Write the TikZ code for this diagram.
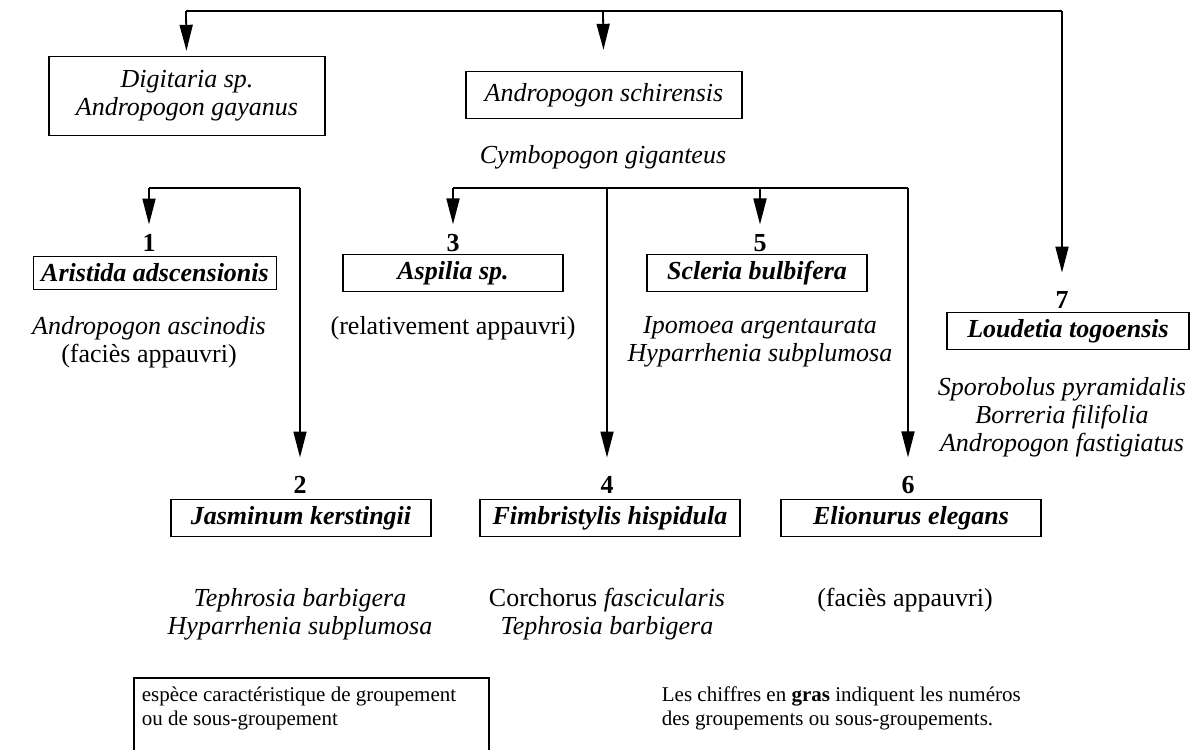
\documentclass[tikz,border=0pt]{standalone}
\usepackage{fontspec}
\setmainfont{Liberation Serif}
\usetikzlibrary{arrows.meta, positioning}
\newcommand{\mainsz}{\fontsize{13}{14}\selectfont}
\newcommand{\legsz}{\fontsize{10.5}{12}\selectfont}

\begin{document}
\begin{tikzpicture}[x=0.5pt, y=-0.5pt, line width=0.9pt,
  spbox/.style={draw, line width=0.7pt, font=\mainsz\bfseries\itshape, minimum width=110pt, minimum height=16.5pt, inner xsep=4pt},
  topbox/.style={draw, line width=0.7pt, font=\mainsz\itshape, align=center, minimum width=138pt},
  grpnum/.style={font=\mainsz\bfseries, inner sep=0pt},
  comp/.style={font=\mainsz\itshape, align=center, inner sep=0pt},
  arr/.style={-{Triangle[length=13pt, width=6.5pt]}, shorten >=4.5pt},
]
\useasboundingbox (0,0) rectangle (1198,750);

% tete de l'arbre
\coordinate (tl) at (186,11);
\coordinate (tm) at (603,11);
\coordinate (tr) at (1062,11);
\node[topbox, minimum height=39.5pt] (digit) at (187,96) {Digitaria sp.\\Andropogon gayanus};
\node[topbox, minimum height=23.5pt] (schir) at (604,95) {Andropogon schirensis};
\node[comp] (cymbo) at (603,157) {Cymbopogon giganteus};

% groupements 1, 3, 5
\node[grpnum] (n1) at (149,243) {1};
\node[spbox] (sp1) at (155,273) {Aristida adscensionis};
\node[comp] (co1) at (149,342) {Andropogon ascinodis\\\upshape (faciès appauvri)};
\node[grpnum] (n3) at (453,243) {3};
\node[spbox] (sp3) at (453,273) {Aspilia sp.};
\node[comp, font=\mainsz] (co3) at (453,328) {(relativement appauvri)};
\node[grpnum] (n5) at (760,243) {5};
\node[spbox] (sp5) at (757,273) {Scleria bulbifera};
\node[comp] (co5) at (760,342) {Ipomoea argentaurata\\Hyparrhenia subplumosa};

% groupement 7
\node[grpnum] (n7) at (1062,300) {7};
\node[spbox, minimum width=121pt] (sp7) at (1068,331) {Loudetia togoensis};
\node[comp] (co7) at (1062,417) {Sporobolus pyramidalis\\Borreria filifolia\\Andropogon fastigiatus};

% groupements 2, 4, 6
\node[grpnum] (n2) at (300,485) {2};
\node[spbox, minimum width=130pt, minimum height=18pt] (sp2) at (301,518) {Jasminum kerstingii};
\node[comp] (co2) at (300,614) {Tephrosia barbigera\\Hyparrhenia subplumosa};
\node[grpnum] (n4) at (607,485) {4};
\node[spbox, minimum width=130pt, minimum height=18pt] (sp4) at (610,518) {Fimbristylis hispidula};
\node[comp] (co4) at (607,614) {{\upshape Corchorus} fascicularis\\Tephrosia barbigera};
\node[grpnum] (n6) at (908,485) {6};
\node[spbox, minimum width=130pt, minimum height=18pt] (sp6) at (911,518) {Elionurus elegans};
\node[comp, font=\mainsz] (co6) at (905,600) {(faciès appauvri)};

% branches
\coordinate (a1) at (149,188);
\coordinate (a2) at (300,188);
\coordinate (b3) at (453,188);
\coordinate (b4) at (607,188);
\coordinate (b5) at (760,188);
\coordinate (b6) at (908,188);

\draw (tl) -- (tr);
\draw[arr, shorten >=2.5pt] (tl) -- (digit);
\draw[arr, shorten >=10.5pt] (tm) -- (schir);
\draw[arr, shorten >=9pt] (tr) -- (n7);

\draw (a1) -- (a2);
\draw[arr] (a1) -- (n1);
\draw[arr, shorten >=9pt] (a2) -- (n2);

\draw (b3) -- (b6);
\draw[arr] (b3) -- (n3);
\draw[arr, shorten >=9pt] (b4) -- (n4);
\draw[arr] (b5) -- (n5);
\draw[arr, shorten >=9pt] (b6) -- (n6);

% legende
\node[font=\legsz, align=left, anchor=north west, inner sep=0pt] (leg) at (141,686) {espèce caractéristique de groupement\\ou de sous-groupement};
\coordinate (lgl) at (134,750);
\coordinate (lgtr) at (489,678);
\coordinate (lgr) at (489,750);
\draw[line width=0.7pt] (lgl) |- (lgtr) -- (lgr);
\node[font=\legsz, align=left, anchor=north west, inner sep=0pt] (note) at (661,686) {Les chiffres en \textbf{gras} indiquent les numéros\\des groupements ou sous-groupements.};
\end{tikzpicture}
\end{document}
